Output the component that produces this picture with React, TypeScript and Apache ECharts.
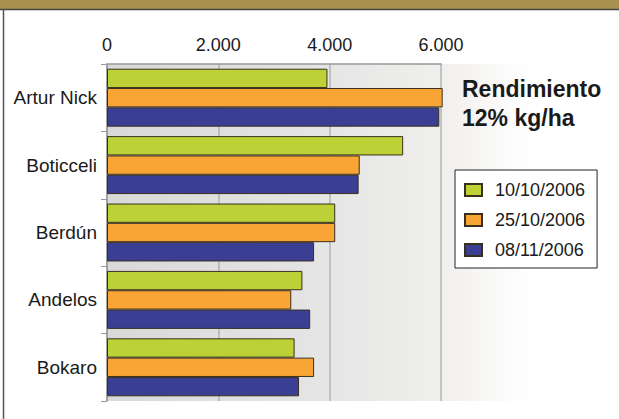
import React, { useEffect, useRef } from "react";
import * as echarts from "echarts";

const categories = ["Artur Nick", "Boticceli", "Berdún", "Andelos", "Bokaro"];
const seriesNames = ["10/10/2006", "25/10/2006", "08/11/2006"];
const values1 = [3960, 5320, 4100, 3510, 3370];
const values2 = [6030, 4540, 4100, 3310, 3720];
const values3 = [5970, 4520, 3720, 3650, 3450];
const seriesColors = ["#bcd135", "#f9a535", "#3a3f94"];
const titleLines = ["Rendimiento", "12% kg/ha"];

const FONT = "'Liberation Sans', Arial, Helvetica, sans-serif";

function fmt(v: number): string {
  return String(v).replace(/\B(?=(\d{3})+(?!\d))/g, ".");
}

export default function App() {
  const ref = useRef<HTMLDivElement>(null);
  useEffect(() => {
    if (!ref.current) return;
    const chart = echarts.init(ref.current, undefined, { renderer: "svg" });
    const allValues = [values1, values2, values3];
    chart.setOption({
      animation: false,
      backgroundColor: "#ffffff",
      textStyle: { fontFamily: FONT },
      title: {
        text: titleLines.join("\n"),
        left: 462,
        top: 74,
        padding: 0,
        textStyle: {
          fontFamily: FONT,
          fontSize: 23,
          fontWeight: "bold",
          lineHeight: 29,
          color: "#1a1a1a",
        },
      },
      legend: {
        orient: "vertical",
        left: 455,
        top: 170,
        width: 143,
        padding: [11, 12, 9, 9],
        itemWidth: 17,
        itemHeight: 12,
        itemGap: 12,
        borderColor: "#222",
        borderWidth: 1,
        backgroundColor: "#ffffff",
        icon: "rect",
        data: seriesNames,
        textStyle: {
          fontFamily: FONT,
          fontSize: 18,
          color: "#1a1a1a",
          padding: [0, 0, 0, 8],
        },
      },
      graphic: [
        {
          type: "rect",
          z: -1,
          shape: { x: 440, y: 64, width: 90, height: 337 },
          style: {
            fill: new echarts.graphic.LinearGradient(0, 0, 1, 0, [
              { offset: 0, color: "#f1efed" },
              { offset: 1, color: "#ffffff" },
            ]),
          },
        },
        {
          type: "rect",
          shape: { x: 0, y: 0, width: 619, height: 9 },
          style: { fill: "#a89150" },
        },
        {
          type: "line",
          shape: { x1: 0, y1: 9.5, x2: 619, y2: 9.5 },
          style: { stroke: "#444", lineWidth: 1.5 },
        },
        {
          type: "line",
          shape: { x1: 3.5, y1: 9, x2: 3.5, y2: 419 },
          style: { stroke: "#555", lineWidth: 1.5 },
        },
      ],
      grid: {
        left: 107,
        top: 64,
        right: 178,
        bottom: 18,
        show: true,
        borderWidth: 0,
        backgroundColor: new echarts.graphic.LinearGradient(0, 0, 1, 0, [
          { offset: 0, color: "#d9d9d9" },
          { offset: 0.6, color: "#e4e4e4" },
          { offset: 1, color: "#f0efed" },
        ]),
      },
      xAxis: {
        type: "value",
        position: "top",
        min: 0,
        max: 6000,
        interval: 2000,
        axisLine: { show: true, lineStyle: { color: "#999", width: 1.5 } },
        axisTick: { show: false },
        splitLine: { show: true, lineStyle: { color: "#b3b3b3", width: 1.5 } },
        axisLabel: {
          margin: 10,
          fontSize: 18,
          color: "#1a1a1a",
          fontFamily: FONT,
          formatter: (v: number) => fmt(v),
        },
      },
      yAxis: {
        type: "category",
        inverse: true,
        data: categories,
        axisLine: { show: true, lineStyle: { color: "#999", width: 1.5 } },
        axisTick: { show: true, length: 6, lineStyle: { color: "#999" } },
        axisLabel: {
          margin: 10,
          fontSize: 19,
          color: "#1a1a1a",
          fontFamily: FONT,
        },
      },
      series: seriesNames.map((name, i) => ({
        name,
        type: "bar",
        data: allValues[i],
        barGap: "0%",
        barCategoryGap: "14%",
        clip: false,
        itemStyle: {
          color: seriesColors[i],
          borderColor: "#3a2f1e",
          borderWidth: 1,
        },
      })),
    });
    return () => chart.dispose();
  }, []);
  return (
    <div
      ref={ref}
      style={{ position: "fixed", left: 0, top: 0, width: 619, height: 419 }}
    />
  );
}
